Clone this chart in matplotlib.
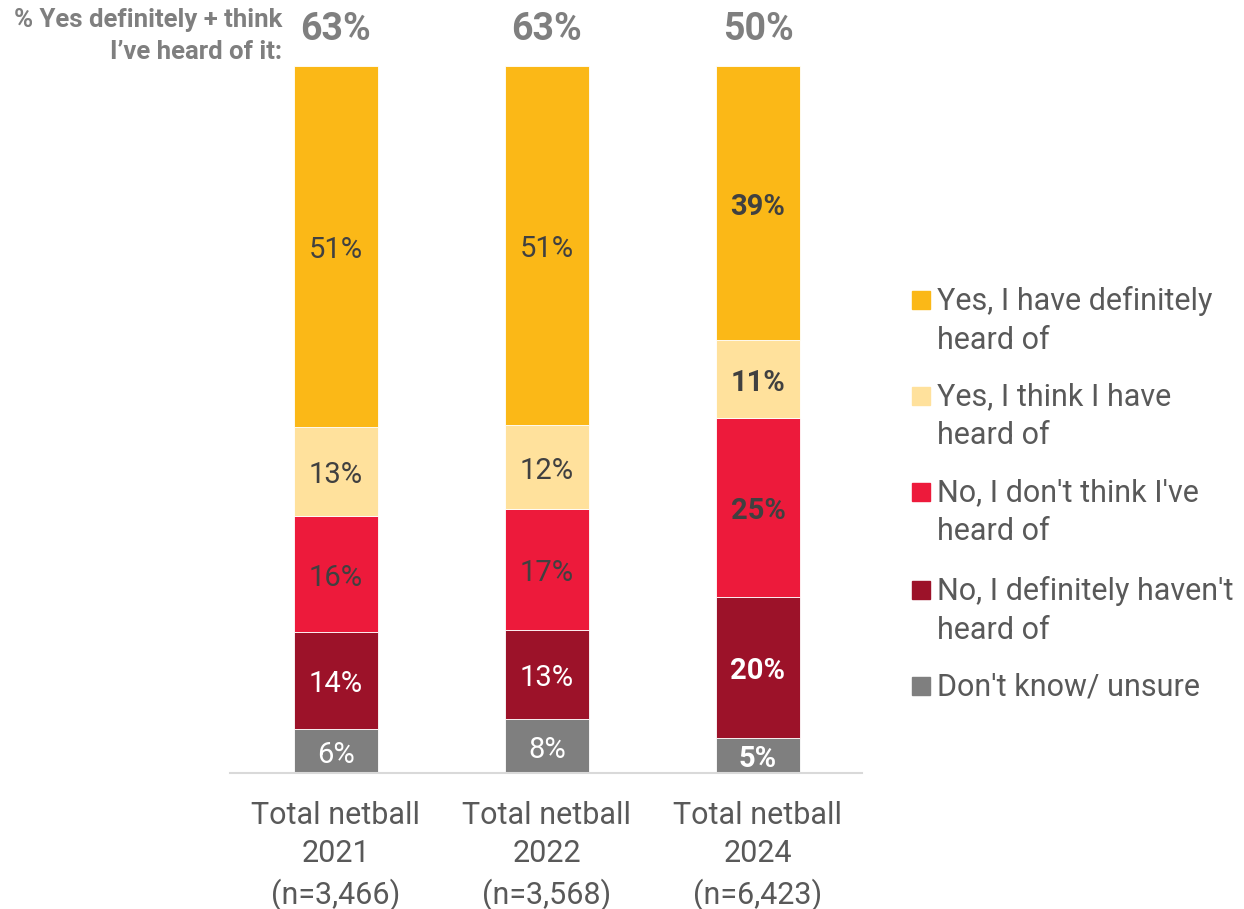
import matplotlib.pyplot as plt
from matplotlib.patches import Rectangle

plt.rcParams['font.family'] = ['Roboto', 'DejaVu Sans']

# data (bottom to top of each stack)
groups = ['Total netball\n2021\n(n=3,466)', 'Total netball\n2022\n(n=3,568)', 'Total netball\n2024\n(n=6,423)']
dont_know = [6.2, 7.6, 5.0]
def_not = [13.7, 12.6, 19.9]
think_not = [16.4, 17.1, 25.3]
think_yes = [12.7, 11.9, 11.0]
def_yes = [51.0, 50.8, 38.8]
totals = [63, 63, 50]

series = [
    ("Don't know/ unsure", dont_know, '#7f7f7f'),
    ("No, I definitely haven't\nheard of", def_not, '#9c1229'),
    ("No, I don't think I've\nheard of", think_not, '#ed1a3b'),
    ("Yes, I think I have\nheard of", think_yes, '#ffe19c'),
    ("Yes, I have definitely\nheard of", def_yes, '#fbb817'),
]
white_text = {"Don't know/ unsure", "No, I definitely haven't\nheard of"}

fig = plt.figure(figsize=(12.44, 9.09), dpi=100)
ax = fig.add_axes([230 / 1244, 1 - 773 / 909, 632 / 1244, 707 / 909])

x = list(range(len(groups)))
bottom = [0, 0, 0]
for name, vals, col in series:
    ax.bar(x, vals, width=0.40, bottom=bottom, color=col, edgecolor='white', linewidth=0.6)
    for i, v in enumerate(vals):
        c = 'white' if name in white_text else '#404040'
        bold = i == 2
        ax.text(i, bottom[i] + v / 2 - 0.5, f"{round(v)}%", ha='center', va='center',
                fontsize=21, color=c, fontweight='bold' if bold else 'normal')
    bottom = [b + v for b, v in zip(bottom, vals)]

for i, t in enumerate(totals):
    ax.text(i, 105.2, f"{t}%", ha='center', va='center', fontsize=27,
            fontweight='bold', color='#7f7f7f', clip_on=False)

fig.text(282 / 1244, 1 - 36 / 909, "% Yes definitely + think\nI\u2019ve heard of it:",
         ha='right', va='center', fontsize=18.5, fontweight='bold', color='#7f7f7f',
         linespacing=1.4)

ax.set_xlim(-0.502, 2.493)
ax.set_ylim(0, 100)
ax.set_xticks(x)
ax.set_xticklabels(groups, fontsize=22, color='#595959', linespacing=1.4)
ax.tick_params(axis='x', length=0, pad=20)
ax.set_yticks([])
for s in ['top', 'right', 'left']:
    ax.spines[s].set_visible(False)
ax.spines['bottom'].set_color('#d9d9d9')
ax.spines['bottom'].set_linewidth(1.5)

# legend, top entry first
ys = [300, 396, 492, 590, 686]
for (name, vals, col), yp in zip(series[::-1], ys):
    fig.patches.append(Rectangle((912 / 1244, 1 - (yp + 9) / 909), 18 / 1244, 18 / 909,
                                 transform=fig.transFigure, color=col))
    fig.text(937 / 1244, 1 - (yp - 14) / 909, name, ha='left', va='top',
             fontsize=22, color='#595959', linespacing=1.45)

fig.savefig('out.png', dpi=100)
